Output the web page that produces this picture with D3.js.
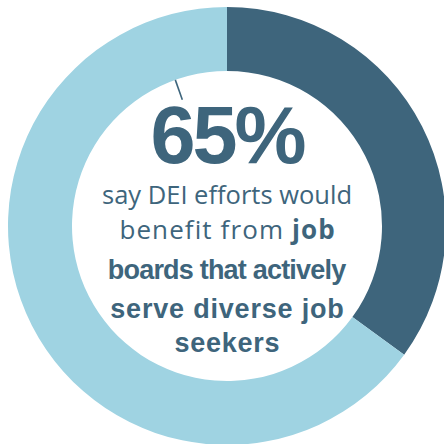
<!DOCTYPE html>
<html>
<head>
<meta charset="utf-8">
<script src="https://cdn.jsdelivr.net/npm/d3@7"></script>
<style>
  html, body { margin: 0; padding: 0; background: #fff; }
  svg { display: block; }
</style>
</head>
<body>
<div id="chart"></div>
<script>
// share of respondents
const categories = ["agree", "other"]
const values = [65, 35]
const colors = ["#9fd3e2", "#3e657c"]

const headline = "65%"
// caption lines: each is a list of [text, bold]
const caption = [
    [["say DEI efforts would", false]],
    [["benefit from ", false], ["job", true]],
    [["boards that actively", true]],
    [["serve diverse job", true]],
    [["seekers", true]]
]

const width = 444, height = 444
const cx = 227, cy = 226
const outer = 219, inner = 155
const textColor = "#3e657c"

const svg = d3.select("#chart").append("svg")
    .attr("width", width).attr("height", height)

const g = svg.append("g").attr("transform", `translate(${cx}, ${cy})`)

// dark slice starts at 12 o'clock and runs clockwise, light fills the rest
const pie = d3.pie().sort(null).value(d => d.value)
const data = pie([
    { key: categories[1], value: values[1], color: colors[1] },
    { key: categories[0], value: values[0], color: colors[0] }
])
const arc = d3.arc().innerRadius(inner).outerRadius(outer)

g.selectAll("path")
    .data(data)
    .join("path")
    .attr("d", arc)
    .attr("fill", d => d.data.color)

// small leftover leader tick
const tickAngle = -0.34
g.append("line")
    .attr("x1", Math.sin(tickAngle) * inner).attr("y1", -Math.cos(tickAngle) * inner)
    .attr("x2", Math.sin(tickAngle) * 134).attr("y2", -Math.cos(tickAngle) * 134)
    .attr("stroke", textColor).attr("stroke-width", 1.6)

g.append("text")
    .attr("x", 0).attr("y", -63)
    .attr("text-anchor", "middle")
    .attr("font-family", "Liberation Sans, Arial, sans-serif")
    .attr("font-weight", "bold")
    .attr("font-size", 81)
    .attr("letter-spacing", -3)
    .attr("fill", textColor)
    .text(headline)

// per-line type settings, roughly following the original text box
const lineY = [-22, 13, 53, 92, 126]
const lineSize = [25.5, 26, 27, 27, 27]
const lineSpacing = [0, 1.1, -0.8, 0.8, 0.7]
caption.forEach((parts, i) => {
    const humanist = i < 2
    const t = g.append("text")
        .attr("x", lineSpacing[i] / 2).attr("y", lineY[i])
        .attr("text-anchor", "middle")
        .attr("fill", textColor)
        .attr("font-family", humanist ? "Open Sans, Noto Sans, sans-serif" : "Liberation Sans, Arial, sans-serif")
        .attr("font-size", lineSize[i])
        .attr("letter-spacing", lineSpacing[i])
    parts.forEach(p => {
        t.append("tspan")
            .attr("font-weight", p[1] ? "bold" : "normal")
            .text(p[0])
    })
})
</script>
</body>
</html>
